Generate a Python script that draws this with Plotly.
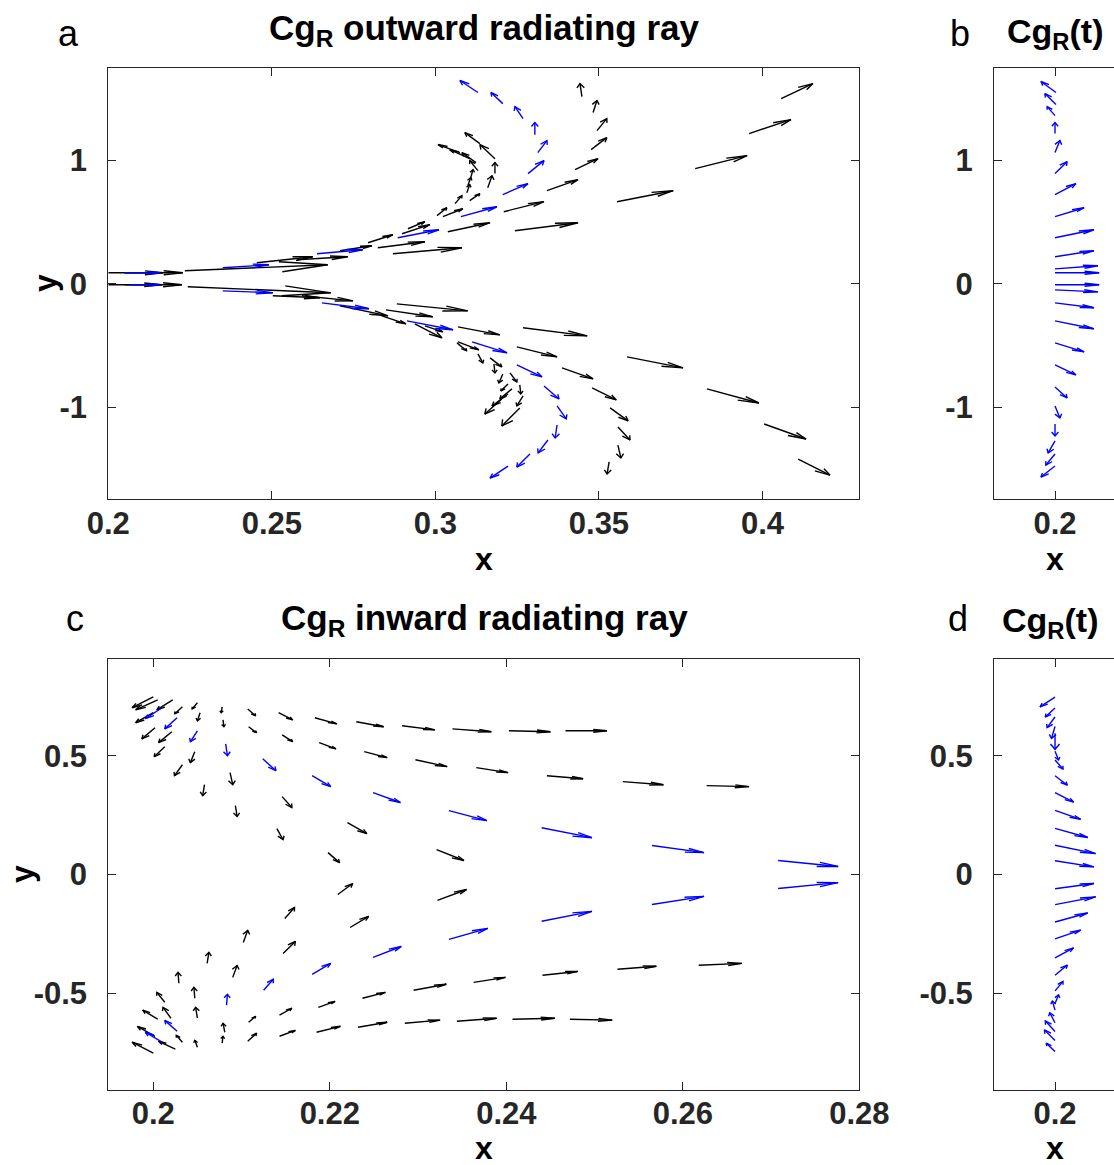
import plotly.graph_objects as go

# ---------------- data (quiver samples: position x,y and vector u,v) ----------------
# Panel a : outward radiating rays
A_BLK_X = [0.2000, 0.2050, 0.2234, 0.2454, 0.2576, 0.2708, 0.2794, 0.2824, 0.2870, 0.2898,
           0.2916, 0.3038, 0.3005, 0.3023, 0.3060, 0.3096, 0.3105, 0.3099, 0.3108, 0.3130,
           0.3124, 0.3105, 0.3075, 0.3136, 0.3182, 0.3182, 0.3160, 0.3448, 0.3482, 0.3494,
           0.3476, 0.3427, 0.3341, 0.3209, 0.3243, 0.3555, 0.3794, 0.3959, 0.4057,
           0.2000, 0.2050, 0.2243, 0.2503, 0.2592, 0.2708, 0.2836, 0.2849, 0.2882, 0.2937,
           0.2968, 0.3069, 0.3268, 0.3069, 0.3066, 0.3249, 0.3586, 0.3387, 0.3130, 0.3167,
           0.3179, 0.3228, 0.3206, 0.3479, 0.3830, 0.3222, 0.3258, 0.3534, 0.3268, 0.3234,
           0.3222, 0.3203, 0.3258, 0.3558, 0.4005, 0.3558, 0.3531, 0.4109]
A_BLK_Y = [0.089, 0.089, 0.105, 0.170, 0.194, 0.267, 0.332, 0.291, 0.243, 0.405,
           0.445, 0.421, 0.551, 0.543, 0.648, 0.737, 0.672, 0.794, 0.858, 0.915,
           0.980, 1.012, 1.061, 1.134, 1.012, 0.891, 0.777, 1.514, 1.385, 1.239,
           1.085, 0.923, 0.753, 0.583, 0.429, 0.664, 0.931, 1.215, 1.498,
           -0.008, -0.008, -0.024, -0.097, -0.097, -0.178, -0.259, -0.211, -0.162, -0.324,
           -0.340, -0.348, -0.356, -0.470, -0.478, -0.510, -0.591, -0.680, -0.567, -0.599,
           -0.648, -0.721, -0.729, -0.842, -0.850, -0.810, -0.818, -1.004, -0.907, -0.850,
           -0.891, -0.931, -1.004, -1.158, -1.134, -1.304, -1.441, -1.417]
A_BLK_U = [0.0167, 0.0178, 0.0437, 0.0171, 0.0156, 0.0098, 0.0076, 0.0144, 0.0211, 0.0085,
           0.0052, 0.0129, 0.0030, 0.0061, 0.0021, 0.0009, 0.0031, 0.0009, 0.0007, -0.0025,
           -0.0043, -0.0061, -0.0067, -0.0046, -0.0046, 0.0000, 0.0013, -0.0006, 0.0012, 0.0030,
           0.0048, 0.0070, 0.0095, 0.0123, 0.0193, 0.0172, 0.0159, 0.0128, 0.0097,
           0.0164, 0.0175, 0.0437, 0.0144, 0.0156, 0.0147, 0.0074, 0.0143, 0.0217, 0.0083,
           0.0055, 0.0128, 0.0196, 0.0064, 0.0030, 0.0123, 0.0171, 0.0095, 0.0015, 0.0036,
           0.0003, 0.0021, -0.0012, 0.0074, 0.0159, -0.0022, 0.0003, 0.0055, -0.0019, -0.0037,
           -0.0049, -0.0052, -0.0055, 0.0037, 0.0128, 0.0009, -0.0006, 0.0097]
A_BLK_V = [0.000, 0.000, 0.049, 0.049, 0.025, 0.041, 0.065, 0.049, 0.048, 0.073,
           0.057, 0.073, 0.064, 0.064, 0.065, 0.065, 0.057, 0.064, 0.065, 0.081,
           0.081, 0.073, 0.065, 0.089, 0.114, 0.089, 0.097, 0.105, 0.097, 0.097,
           0.097, 0.089, 0.089, 0.081, 0.065, 0.089, 0.105, 0.113, 0.121,
           0.000, 0.000, -0.049, -0.016, -0.041, -0.081, -0.065, -0.056, -0.057, -0.113,
           -0.049, -0.065, -0.065, -0.064, -0.065, -0.081, -0.089, -0.089, -0.073, -0.073,
           -0.073, -0.073, -0.073, -0.097, -0.114, -0.056, -0.073, -0.105, -0.081, -0.081,
           -0.097, -0.122, -0.146, -0.105, -0.121, -0.105, -0.097, -0.130]

A_BLU_X = [0.2050, 0.2350, 0.2638, 0.2885, 0.3078, 0.3206, 0.3283, 0.3313, 0.3304, 0.3268, 0.3206, 0.3130,
           0.2066, 0.2350, 0.2653, 0.2913, 0.3112, 0.3249, 0.3332, 0.3372, 0.3372, 0.3344, 0.3289, 0.3222]
A_BLU_Y = [0.089, 0.130, 0.243, 0.372, 0.543, 0.721, 0.891, 1.061, 1.206, 1.336, 1.457, 1.547,
           -0.008, -0.057, -0.154, -0.300, -0.470, -0.656, -0.826, -0.988, -1.142, -1.263, -1.377, -1.474]
A_BLU_U = [0.0107, 0.0141, 0.0140, 0.0126, 0.0110, 0.0077, 0.0049, 0.0028, 0.0000, -0.0025, -0.0036, -0.0055,
           0.0091, 0.0153, 0.0144, 0.0141, 0.0107, 0.0077, 0.0046, 0.0028, -0.0006, -0.0030, -0.0040, -0.0055]
A_BLU_V = [0.000, 0.024, 0.032, 0.065, 0.080, 0.089, 0.105, 0.097, 0.098, 0.097, 0.090, 0.097,
           0.000, -0.016, -0.048, -0.072, -0.089, -0.097, -0.105, -0.105, -0.105, -0.105, -0.105, -0.097]

# Panel b : Cg_R(t) outward
B_X = [0.2003, 0.2003, 0.2000, 0.2000, 0.2000, 0.2000, 0.2000, 0.2000, 0.2000, 0.2000, 0.2000, 0.2000,
       0.2000, 0.2000, 0.2000, 0.2000, 0.2000, 0.2000, 0.2000, 0.2000, 0.2000, 0.2000, 0.2000, 0.2000]
B_Y = [1.547, 1.449, 1.360, 1.215, 1.061, 0.891, 0.721, 0.543, 0.372, 0.219, 0.121, 0.089,
       -0.008, -0.049, -0.154, -0.300, -0.478, -0.656, -0.834, -0.988, -1.134, -1.271, -1.377, -1.474]
B_U = [-0.0046, -0.0034, -0.0024, 0.0000, 0.0015, 0.0037, 0.0064, 0.0089, 0.0119, 0.0119, 0.0131, 0.0135,
       0.0135, 0.0131, 0.0119, 0.0119, 0.0089, 0.0064, 0.0037, 0.0015, 0.0000, -0.0021, -0.0028, -0.0043]
B_V = [0.089, 0.089, 0.073, 0.089, 0.097, 0.097, 0.089, 0.072, 0.065, 0.048, 0.025, 0.000,
       0.000, -0.016, -0.040, -0.064, -0.073, -0.081, -0.089, -0.097, -0.097, -0.097, -0.089, -0.089]

# Panel c : inward radiating rays
C_BLK_X = [0.2000, 0.2005, 0.2022, 0.2033, 0.2050, 0.2078, 0.2107, 0.2142, 0.2183, 0.2230,
           0.2282, 0.2339, 0.2403, 0.2467, 0.2000, 0.2053, 0.2079, 0.2108, 0.2146, 0.2188,
           0.2239, 0.2297, 0.2366, 0.2446, 0.2532, 0.2627, 0.2002, 0.2021, 0.2013, 0.2047,
           0.2033, 0.2087, 0.2058, 0.2146, 0.2093, 0.2220, 0.2140, 0.2321, 0.2198,
           0.2209, 0.2322, 0.2149, 0.2223, 0.2102, 0.2147, 0.2061, 0.2090, 0.2029, 0.2047,
           0.2013, 0.2187, 0.2237, 0.2295, 0.2363, 0.2441, 0.2526, 0.2618, 0.2020, 0.2050,
           0.2005, 0.2081, 0.2108, 0.2143, 0.2107, 0.2143, 0.2185, 0.2232, 0.2285, 0.2344,
           0.2407, 0.2472, 0.2033, 0.2050, 0.2078, 0.2025, 0.2000, 0.2002]
C_BLK_Y = [0.748, 0.735, 0.735, 0.706, 0.723, 0.706, 0.697, 0.681, 0.660, 0.643,
           0.626, 0.613, 0.605, 0.605, 0.681, 0.681, 0.651, 0.622, 0.588, 0.555,
           0.517, 0.483, 0.450, 0.416, 0.391, 0.374, 0.618, 0.601, 0.538, 0.517,
           0.462, 0.429, 0.378, 0.328, 0.290, 0.218, 0.193, 0.105, 0.092,
           -0.084, -0.109, -0.185, -0.223, -0.286, -0.332, -0.374, -0.433, -0.458, -0.521,
           -0.538, -0.559, -0.521, -0.487, -0.454, -0.424, -0.399, -0.382, -0.605, -0.605,
           -0.609, -0.664, -0.622, -0.592, -0.702, -0.681, -0.664, -0.643, -0.626, -0.618,
           -0.609, -0.609, -0.706, -0.727, -0.710, -0.735, -0.752, -0.681]
C_BLK_U = [-0.0024, -0.0025, -0.0018, -0.0009, -0.0006, -0.0001, 0.0009, 0.0016, 0.0025, 0.0031,
           0.0037, 0.0044, 0.0047, 0.0047, -0.0020, -0.0003, 0.0001, 0.0009, 0.0012, 0.0019,
           0.0026, 0.0036, 0.0036, 0.0041, 0.0046, 0.0048, -0.0015, -0.0015, -0.0012, -0.0005,
           -0.0009, 0.0003, -0.0002, 0.0011, 0.0002, 0.0022, 0.0007, 0.0031, 0.0013,
           0.0017, 0.0033, 0.0011, 0.0021, 0.0005, 0.0014, 0.0002, 0.0005, -0.0001, -0.0001,
           -0.0009, 0.0019, 0.0026, 0.0037, 0.0036, 0.0040, 0.0044, 0.0049, -0.0009, -0.0002,
           -0.0017, -0.0002, 0.0008, 0.0014, 0.0010, 0.0018, 0.0027, 0.0033, 0.0040, 0.0045,
           0.0048, 0.0048, -0.0007, -0.0003, 0.0001, -0.0019, -0.0024, -0.0020]
C_BLK_V = [-0.046, -0.042, -0.042, -0.030, -0.026, -0.025, -0.029, -0.030, -0.026, -0.021,
           -0.017, -0.012, -0.004, 0.000, -0.042, -0.034, -0.029, -0.025, -0.029, -0.026,
           -0.025, -0.029, -0.021, -0.013, -0.013, -0.004, -0.047, -0.046, -0.042, -0.046,
           -0.046, -0.051, -0.046, -0.046, -0.046, -0.046, -0.046, -0.046, -0.042,
           0.046, 0.046, 0.046, 0.047, 0.051, 0.050, 0.046, 0.050, 0.046, 0.046,
           0.042, 0.025, 0.025, 0.025, 0.021, 0.016, 0.013, 0.008, 0.046, 0.046,
           0.038, 0.038, 0.025, 0.029, 0.034, 0.025, 0.025, 0.021, 0.013, 0.013,
           0.004, -0.004, 0.029, 0.029, 0.029, 0.033, 0.046, 0.042]

C_BLU_X = [0.2010, 0.2027, 0.2050, 0.2082, 0.2124, 0.2180, 0.2249, 0.2335, 0.2440, 0.2565, 0.2708,
           0.2708, 0.2565, 0.2440, 0.2335, 0.2249, 0.2180, 0.2125, 0.2083, 0.2027, 0.2010]
C_BLU_Y = [0.702, 0.660, 0.605, 0.550, 0.487, 0.416, 0.345, 0.269, 0.197, 0.122, 0.059,
           -0.059, -0.126, -0.197, -0.273, -0.349, -0.420, -0.487, -0.550, -0.660, -0.706]
C_BLU_U = [-0.0019, -0.0014, -0.0008, 0.0002, 0.0015, 0.0021, 0.0031, 0.0043, 0.0057, 0.0059, 0.0068,
           0.0068, 0.0059, 0.0057, 0.0044, 0.0032, 0.0021, 0.0011, 0.0001, -0.0014, -0.0019]
C_BLU_V = [-0.046, -0.047, -0.046, -0.050, -0.050, -0.046, -0.042, -0.042, -0.042, -0.030, -0.025,
           0.025, 0.034, 0.042, 0.046, 0.046, 0.046, 0.046, 0.046, 0.046, 0.042]

# Panel d : Cg_R(t) inward
D_X = [0.2000] * 26
D_Y = [0.747, 0.701, 0.663, 0.623, 0.595, 0.519, 0.482, 0.416, 0.345, 0.270, 0.194, 0.123, 0.058,
       -0.060, -0.127, -0.200, -0.271, -0.351, -0.424, -0.490, -0.543, -0.571, -0.624, -0.661, -0.699, -0.745]
D_U = [-0.0017, -0.0011, -0.0009, -0.0004, 0.0000, 0.0004, 0.0009, 0.0014, 0.0021, 0.0029, 0.0037, 0.0046, 0.0044,
       0.0044, 0.0046, 0.0037, 0.0029, 0.0021, 0.0014, 0.0009, 0.0004, -0.0003, -0.0006, -0.0011, -0.0012, -0.0010]
D_V = [-0.041, -0.038, -0.045, -0.050, -0.068, -0.037, -0.038, -0.040, -0.040, -0.038, -0.038, -0.035, -0.026,
       0.022, 0.033, 0.038, 0.037, 0.042, 0.043, 0.040, 0.036, 0.038, 0.042, 0.045, 0.045, 0.035]

A_XTICKS = [0.2, 0.25, 0.3, 0.35, 0.4]
A_YTICKS = [-1, 0, 1]
C_XTICKS = [0.2, 0.22, 0.24, 0.26, 0.28]
C_YTICKS = [-0.5, 0, 0.5]
B_XTICKS = [0.2]

# ---------------- layout geometry ----------------
W, H = 1114, 1165
XR = {'a': [0.2, 0.4296], 'b': [0.18135, 0.21804], 'c': [0.1949, 0.2800], 'd': [0.19309, 0.20668]}
YR = {'a': [-1.743, 1.743], 'b': [-1.743, 1.743], 'c': [-0.907, 0.907], 'd': [-0.907, 0.907]}
DX = {'a': [0.0972, 0.7714], 'b': [0.8923, 1.0], 'c': [0.0972, 0.7714], 'd': [0.8923, 1.0]}
DY = {'a': [0.5714, 0.9414], 'b': [0.5714, 0.9414], 'c': [0.0644, 0.4343], 'd': [0.0644, 0.4343]}
AX = {'a': ('x', 'y'), 'b': ('x2', 'y2'), 'c': ('x3', 'y3'), 'd': ('x4', 'y4')}

ALPHA, BETA, ANISO = 0.33, 0.30, 0.35


def quiver(p, xs, ys, us, vs, color):
    sx = (DX[p][1] - DX[p][0]) * W / (XR[p][1] - XR[p][0])
    sy = (DY[p][1] - DY[p][0]) * H / (YR[p][1] - YR[p][0])
    X, Y = [], []
    for x, y, u, v in zip(xs, ys, us, vs):
        x1, y1 = x + u, y + v
        pu, pv = u * sx * ANISO, v * sy
        ax_ = ALPHA * (pu + BETA * pv)
        ay_ = ALPHA * (pv - BETA * pu)
        bx_ = ALPHA * (pu - BETA * pv)
        by_ = ALPHA * (pv + BETA * pu)
        h1x, h1y = x1 - ax_ / ANISO / sx, y1 - ay_ / sy
        h2x, h2y = x1 - bx_ / ANISO / sx, y1 - by_ / sy
        X += [x, x1, None, h1x, x1, h2x, None]
        Y += [y, y1, None, h1y, y1, h2y, None]
    return go.Scatter(x=X, y=Y, mode='lines', line=dict(color=color, width=1.4),
                      xaxis=AX[p][0], yaxis=AX[p][1], hoverinfo='skip', showlegend=False)


fig = go.Figure()
fig.add_trace(quiver('a', A_BLK_X, A_BLK_Y, A_BLK_U, A_BLK_V, '#000000'))
fig.add_trace(quiver('a', A_BLU_X, A_BLU_Y, A_BLU_U, A_BLU_V, '#0000ff'))
fig.add_trace(quiver('b', B_X, B_Y, B_U, B_V, '#0000ff'))
fig.add_trace(quiver('c', C_BLK_X, C_BLK_Y, C_BLK_U, C_BLK_V, '#000000'))
fig.add_trace(quiver('c', C_BLU_X, C_BLU_Y, C_BLU_U, C_BLU_V, '#0000ff'))
fig.add_trace(quiver('d', D_X, D_Y, D_U, D_V, '#0000ff'))

FONT = 'Liberation Sans, Arial, Helvetica, sans-serif'
AXC = '#262626'
tickfont = dict(family=FONT, size=31, color=AXC, weight='bold')


def xax(p, ticks, anchor):
    return dict(domain=DX[p], range=XR[p], tickvals=ticks, ticktext=[('%g' % t) for t in ticks],
                anchor=anchor, automargin=False,
                showline=True, linecolor=AXC, linewidth=1, mirror='ticks',
                ticks='inside', ticklen=8, tickcolor=AXC, tickwidth=1, showgrid=False, zeroline=False,
                tickfont=tickfont, ticklabelstandoff=-4, fixedrange=True)


def yax(p, ticks, anchor, mirror=True):
    return dict(domain=DY[p], range=YR[p], tickvals=ticks, ticktext=[('%g' % t) for t in ticks],
                anchor=anchor, automargin=False,
                showline=True, linecolor=AXC, linewidth=1, mirror='ticks' if mirror else False,
                ticks='inside', ticklen=8, tickcolor=AXC, tickwidth=1, showgrid=False, zeroline=False,
                tickfont=tickfont, ticklabelstandoff=14, fixedrange=True)


fig.update_layout(
    width=W, height=H, margin=dict(l=0, r=0, t=0, b=0, autoexpand=False),
    paper_bgcolor='white', plot_bgcolor='white',
    xaxis=xax('a', A_XTICKS, 'y'), yaxis=yax('a', A_YTICKS, 'x'),
    xaxis2=xax('b', B_XTICKS, 'y2'), yaxis2=yax('b', A_YTICKS, 'x2', mirror=False),
    xaxis3=xax('c', C_XTICKS, 'y3'), yaxis3=yax('c', C_YTICKS, 'x3'),
    xaxis4=xax('d', B_XTICKS, 'y4'), yaxis4=yax('d', C_YTICKS, 'x4', mirror=False),
)


def px_ann(text, x, y, size, bold=True, angle=0, xanchor='center', yanchor='middle'):
    fig.add_annotation(text=text, x=x / W, y=1 - y / H, xref='paper', yref='paper', showarrow=False,
                       xanchor=xanchor, yanchor=yanchor, textangle=angle,
                       font=dict(family=FONT, size=size, color='#000000',
                                 weight='bold' if bold else 'normal'))


px_ann('Cg<sub>R</sub> outward radiating ray', 484, 30, 35)
px_ann('Cg<sub>R</sub> inward radiating ray', 484, 620, 35)
px_ann('Cg<sub>R</sub>(t)', 1055, 33, 34)
px_ann('Cg<sub>R</sub>(t)', 1050, 623, 34)
px_ann('a', 68, 33, 36, bold=False)
px_ann('b', 960, 33, 36, bold=False)
px_ann('c', 75, 618, 36, bold=False)
px_ann('d', 958, 618, 36, bold=False)
px_ann('x', 484, 559, 32)
px_ann('x', 1055, 559, 32)
px_ann('x', 484, 1148, 32)
px_ann('x', 1055, 1148, 32)
px_ann('y', 45, 283, 32, angle=-90)
px_ann('y', 22, 874, 32, angle=-90)

fig.write_html('out.html')
